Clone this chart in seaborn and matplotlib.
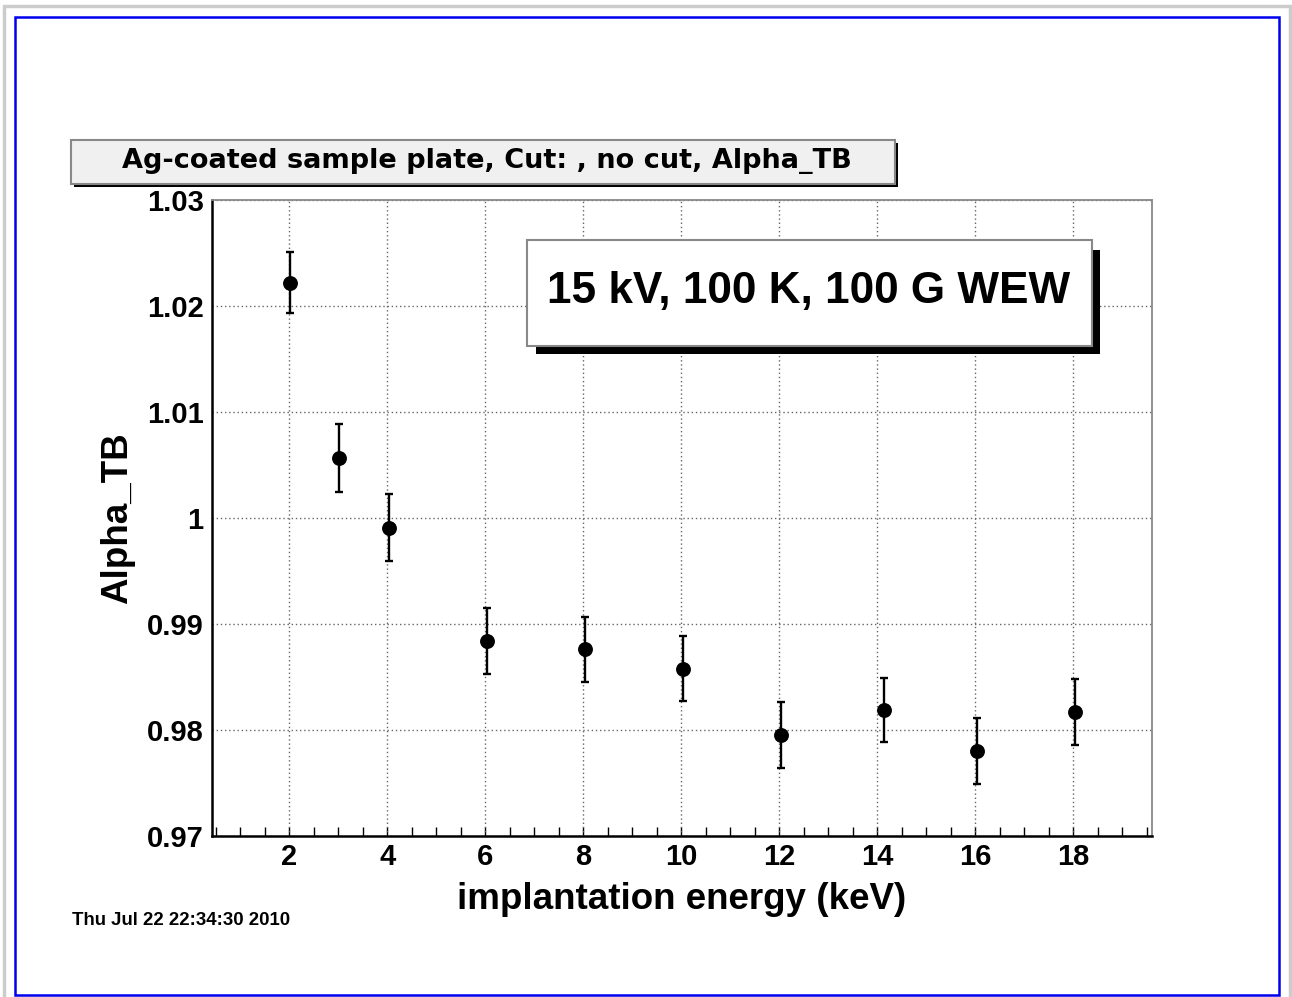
import numpy as np
import pandas as pd
import matplotlib
matplotlib.use("Agg")
import matplotlib.pyplot as plt
import seaborn as sns
from matplotlib.patches import Rectangle
from matplotlib.ticker import MultipleLocator

# ---- data ----
energy = [2.02, 3.02, 4.04, 6.04, 8.03, 10.03, 12.04, 14.13, 16.03, 18.03]
alpha_tb = [1.0222, 1.0057, 0.9991, 0.9884, 0.9876, 0.9858, 0.9795, 0.9819, 0.9780, 0.9817]
alpha_err = [0.0029, 0.0032, 0.0032, 0.0031, 0.0031, 0.0031, 0.0031, 0.0030, 0.0031, 0.0031]
title_text = "Ag-coated sample plate, Cut: , no cut, Alpha_TB"
box_text = "15 kV, 100 K, 100 G WEW"
date_text = "Thu Jul 22 22:34:30 2010"
xlabel = "implantation energy (keV)"
ylabel = "Alpha_TB"

df = pd.DataFrame({"energy": energy, "alpha": alpha_tb, "err": alpha_err})

sns.set_style("white")
plt.rcParams['font.family'] = ['Liberation Sans', 'DejaVu Sans']
plt.rcParams['font.weight'] = 'bold'
plt.rcParams['text.color'] = 'black'
plt.rcParams['axes.labelcolor'] = 'black'
plt.rcParams['xtick.color'] = 'black'
plt.rcParams['ytick.color'] = 'black'

W, H = 1292, 997
fig = plt.figure(figsize=(W / 100, H / 100), dpi=100)
fig.patch.set_facecolor("white")

def fx(px):
    return px / W

def fy(py):
    return 1 - py / H

ax_w = (1152 - 212) / W
ax = fig.add_axes([fx(212), fy(836), ax_w, (836 - 200) / H])

ax.errorbar(df["energy"], df["alpha"], yerr=df["err"], fmt="none", ecolor="black",
            elinewidth=1.7, capsize=3, capthick=1.7, zorder=3)
sns.scatterplot(data=df, x="energy", y="alpha", ax=ax, color="black", s=115,
                edgecolor="black", linewidth=0, zorder=4, legend=False)

ax.set_xlim(0.424, 19.61)
ax.set_ylim(0.97, 1.03)

ax.xaxis.set_minor_locator(MultipleLocator(0.1))
ax.yaxis.set_minor_locator(MultipleLocator(0.002))
ax.set_yticks(np.arange(0.97, 1.0301, 0.01))
ax.set_yticklabels(["0.97", "0.98", "0.99", "1", "1.01", "1.02", "1.03"])
ax.set_xticks(np.arange(2, 19, 2))
ax.set_xticklabels([str(v) for v in range(2, 19, 2)])

ax.tick_params(axis="x", which="major", direction="in", length=13, width=1.2,
               labelsize=21, pad=5, colors="black", top=False)
ax.tick_params(axis="x", which="minor", direction="in", length=3, width=1, top=False)
ax.tick_params(axis="y", which="major", direction="in", length=19, width=1.2,
               labelsize=21, pad=6, colors="black", right=False)
ax.tick_params(axis="y", which="minor", direction="in", length=9.5, width=1, right=False)
for lab in ax.get_xticklabels() + ax.get_yticklabels():
    lab.set_fontweight("bold")

sec = ax.secondary_xaxis("bottom")
sec.set_xticks(np.arange(0.5, 19.6, 0.5))
sec.tick_params(direction="in", length=6.5, width=1, labelbottom=False, colors="black")
sec.spines["bottom"].set_visible(False)

ax.grid(True, which="major", linestyle=(0, (1, 2)), color="#666666", linewidth=1)
ax.set_axisbelow(True)

for s in ["left", "bottom"]:
    ax.spines[s].set_color("black")
    ax.spines[s].set_linewidth(1.8)
for s in ["top", "right"]:
    ax.spines[s].set_color("#888888")
    ax.spines[s].set_linewidth(1.3)

ax.set_xlabel(xlabel, fontsize=26.5, fontweight="bold", labelpad=8)
ax.set_ylabel(ylabel, fontsize=26.5, fontweight="bold")
ax.yaxis.set_label_coords((135 - 212) / (1152 - 212), 0.5)

# ---- title box ----
fig.add_artist(Rectangle((fx(74), fy(187)), (895 - 71) / W, (184 - 140) / H,
                         transform=fig.transFigure, facecolor="black", edgecolor="none"))
fig.add_artist(Rectangle((fx(71), fy(184)), (895 - 71) / W, (184 - 140) / H,
                         transform=fig.transFigure, facecolor="#f0f0f0", edgecolor="#888888",
                         linewidth=1.5))
fig.text(fx(487), fy(161), title_text, ha="center", va="center", fontsize=19.5,
         fontweight="bold", family=["DejaVu Sans"])

# ---- text box ----
fig.add_artist(Rectangle((fx(536), fy(354)), (1100 - 536) / W, (354 - 250) / H,
                         transform=fig.transFigure, facecolor="black", edgecolor="none"))
fig.add_artist(Rectangle((fx(527), fy(346)), (1092 - 527) / W, (346 - 240) / H,
                         transform=fig.transFigure, facecolor="white", edgecolor="#888888",
                         linewidth=1.5))
fig.text(fx(809), fy(292), box_text, ha="center", va="center", fontsize=31.8,
         fontweight="bold")

# ---- date ----
fig.text(fx(72), fy(925), date_text, ha="left", va="baseline", fontsize=13.4,
         fontweight="bold")

# ---- frames ----
fig.add_artist(Rectangle((fx(4), fy(1000)), (1290 - 4) / W, (1000 - 6) / H,
                         transform=fig.transFigure, facecolor="none", edgecolor="#cccccc",
                         linewidth=2.5))
fig.add_artist(Rectangle((fx(15), fy(995)), (1279 - 15) / W, (995 - 17) / H,
                         transform=fig.transFigure, facecolor="none", edgecolor="#0000ee",
                         linewidth=1.8))

fig.savefig("out.png", dpi=100, facecolor="white")
